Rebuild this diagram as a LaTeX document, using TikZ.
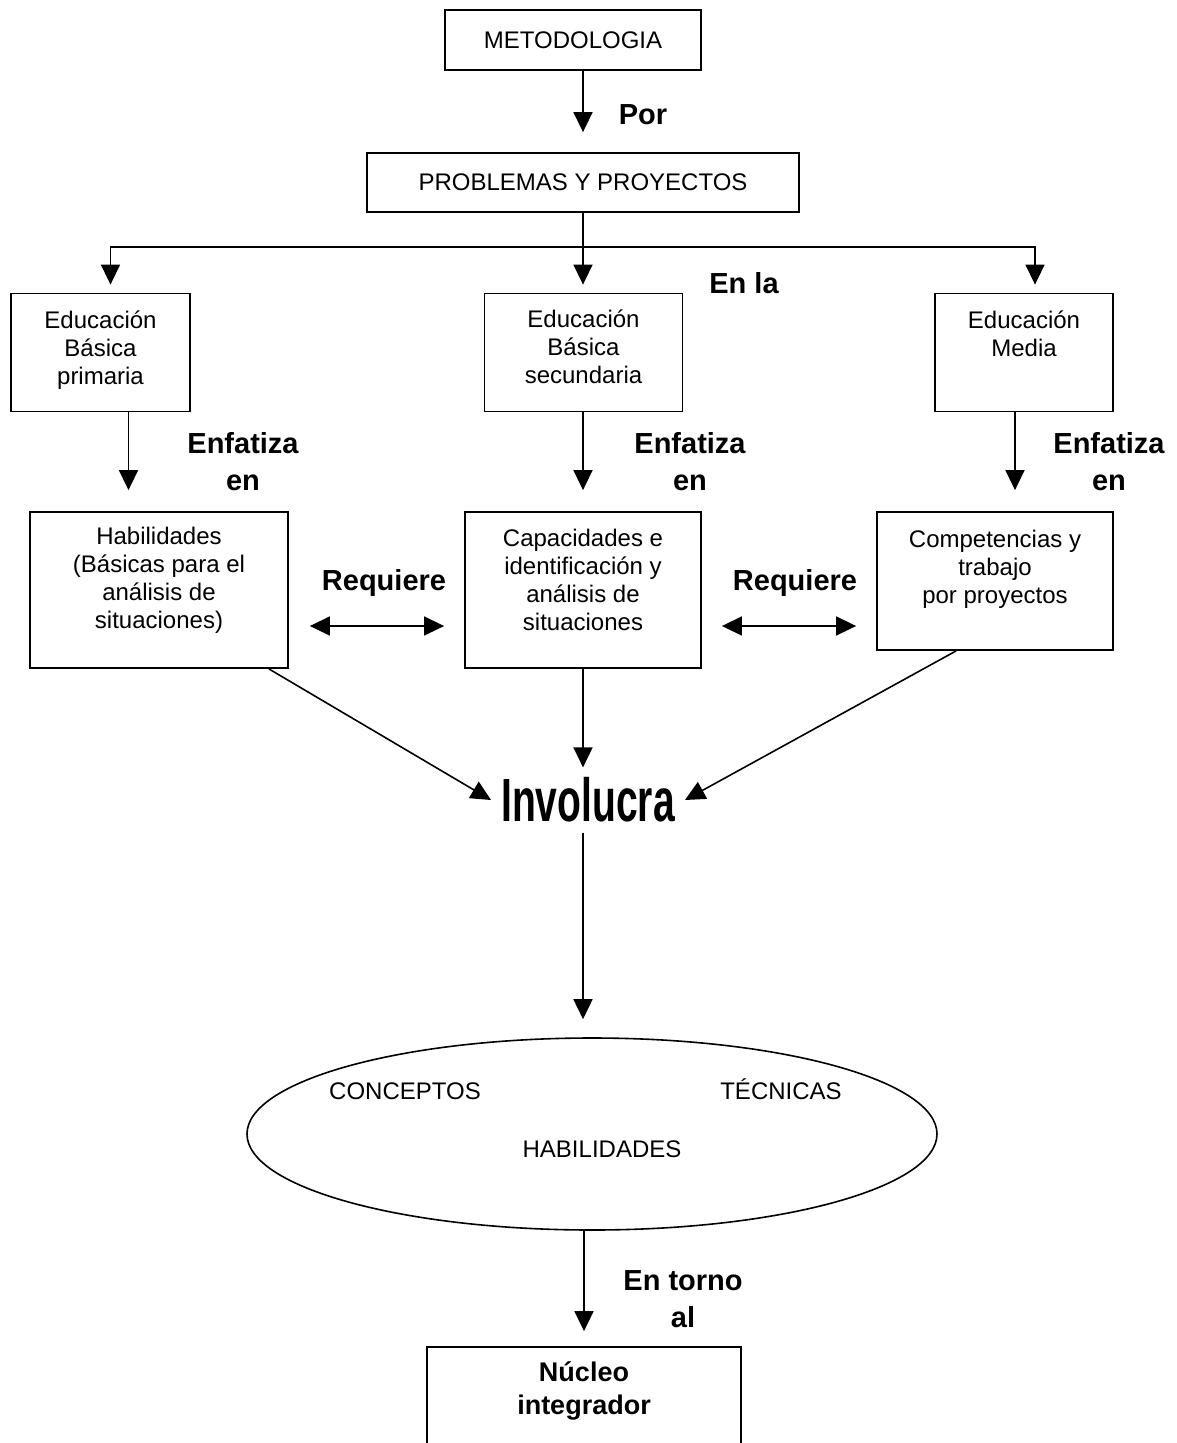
\documentclass[tikz,border=0pt]{standalone}
\usepackage{fontspec}
\setmainfont{Liberation Sans}
\usetikzlibrary{calc,shapes.geometric,positioning,arrows.meta}

\tikzset{
	box/.style={draw, line width=1.8pt, align=center, inner sep=0pt, font=\fontsize{24}{28}\selectfont},
	txt/.style={inner sep=0pt, font=\fontsize{24}{28}\selectfont},
	lbl/.style={align=center, inner sep=0pt, font=\fontsize{29}{37}\selectfont\bfseries},
	arr/.style={line width=1.6pt, -{Triangle[length=20pt,width=19pt]}},
	dbl/.style={line width=1.6pt, {Triangle[length=20pt,width=19pt]}-{Triangle[length=20pt,width=19pt]}},
}

\begin{document}
\begin{tikzpicture}[x=1pt, y=-1pt]
					\useasboundingbox[fill=white] (0,0) rectangle (1176,1443);
					\clip (0,0) rectangle (1176,1443);

					\node[box, minimum width=256pt, minimum height=60pt] (meto) at (573,40) {METODOLOGIA};
					\node[box, minimum width=432pt, minimum height=59pt] (prob) at (583,182.5) {PROBLEMAS Y PROYECTOS};
					\coordinate (bus) at (583,247);

					\node[box, minimum width=179pt, minimum height=118pt, text depth=10pt] (eduprim) at (100.5,352.5) {Educación\\Básica\\primaria};
					\node[box, minimum width=198pt, minimum height=118pt, text depth=12pt] (edusec) at (583.5,352.5) {Educación\\Básica\\secundaria};
					\node[box, minimum width=178pt, minimum height=118pt, text depth=10pt] (edumed) at (1024,352.5) {Educación\\Media\\\mbox{}};

					\node[box, minimum width=258pt, minimum height=156pt, text depth=24pt] (hab) at (159,590) {Habilidades\\(Básicas para el\\análisis de\\situaciones)};
					\node[box, minimum width=236pt, minimum height=156pt, text depth=20pt] (cap) at (583,590) {Capacidades e\\identificación y\\análisis de\\situaciones};
					\node[box, minimum width=236pt, minimum height=138pt] (comp) at (995,581) {Competencias y\\trabajo\\por proyectos\\\mbox{}};

					\node[inner sep=10pt, font=\fontsize{61}{70}\selectfont\bfseries] (invol) at (588,800) {\scalebox{0.64}[1]{Involucra}};

					\node[draw, ellipse, line width=1.6pt, minimum width=690pt, minimum height=192pt, inner sep=0pt] (ell) at (592,1134) {};
					\node[txt] (conc) at (405,1091) {CONCEPTOS};
					\node[txt] (tecn) at (781,1089) {TÉCNICAS};
					\node[txt] (habil) at (602,1149) {HABILIDADES};

					\node[box, minimum width=314pt, minimum height=110pt] (nucleo) at (584,1402) {};
					\node[align=center, inner sep=0pt, font=\fontsize{27}{33}\selectfont\bfseries] (nucleotxt) at (584,1391) {Núcleo\\integrador};

					% labels
					\node[lbl] (por) at (643,115) {Por};
					\node[lbl] (enla) at (744,283) {En la};
					\node[lbl] (enf1) at (243,462) {Enfatiza\\en};
					\node[lbl] (enf2) at (690,462) {Enfatiza\\en};
					\node[lbl] (enf3) at (1109,462) {Enfatiza\\en};
					\node[lbl] (req1) at (384,583) {Requiere};
					\node[lbl] (req2) at (795,583) {Requiere};
					\node[lbl] (entorno) at (683,1299) {En torno\\al};

					\draw[arr, shorten >=20pt] ([xshift=10pt]meto.south) -- ([xshift=10pt]meto.south |- prob.north);
					\draw[line width=1.6pt] (prob.south) -- (bus);
					\draw[arr, shorten >=8pt] (prob.south) -- (prob.south |- edusec.north);
					\draw[arr, shorten >=8pt] (bus) -| ([xshift=10pt]eduprim.north);
					\draw[arr, shorten >=8pt] (bus) -| ([xshift=11pt]edumed.north);

					\draw[arr, shorten >=21pt] ([xshift=28pt]eduprim.south) -- ([xshift=28pt]eduprim.south |- hab.north);
					\draw[arr, shorten >=21pt] (edusec.south -| cap.south) -- (cap.north);
					\draw[arr, shorten >=21pt] ([xshift=-9pt]edumed.south) -- ([xshift=-9pt]edumed.south |- comp.north);

					\draw[dbl, shorten <=21pt, shorten >=20pt] ([yshift=-36pt]hab.east) -- ([yshift=-36pt]cap.west);
					\draw[dbl, shorten <=20pt, shorten >=20pt] ([yshift=-36pt]cap.east) -- ([yshift=-45pt]comp.west);

					\draw[arr] ([xshift=-20pt]hab.south east) -- (invol.west);
					\draw[arr] (cap.south) -- (cap.south |- invol.north);
					\draw[arr] ([xshift=80pt]comp.south west) -- (invol.east);

					\draw[arr, shorten >=18pt] (cap.south |- invol.south) -- (cap.south |- ell.north);
					\draw[arr, shorten >=15pt] (ell.south -| nucleo.north) -- (nucleo.north);
				\end{tikzpicture}
\end{document}
